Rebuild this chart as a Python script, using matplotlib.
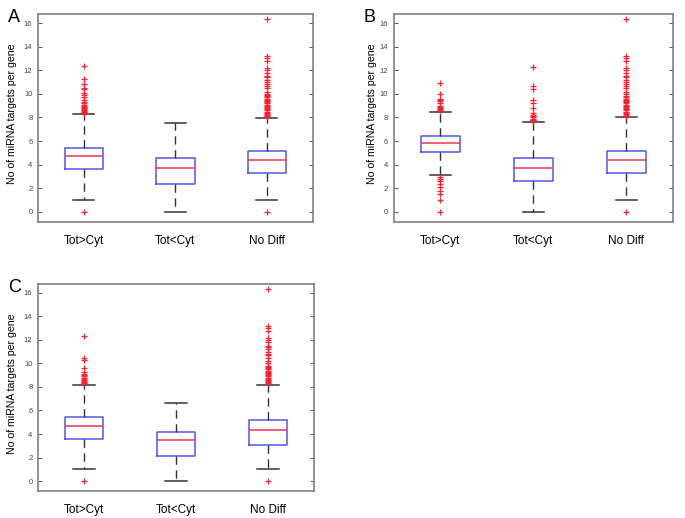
import numpy as np
import matplotlib
matplotlib.use('Agg')
import matplotlib.pyplot as plt

plt.rcParams['font.family'] = ['Liberation Sans', 'DejaVu Sans']

# Categories shared by every panel
categories = ['Tot>Cyt', 'Tot<Cyt', 'No Diff']
panel_labels = ['A', 'B', 'C']
yticks = [0, 2, 4, 6, 8, 10, 12, 14, 16]

# Box statistics per panel: (whislo, q1, med, q3, whishi) for each category
A_stats = [(1.0, 3.6, 4.7, 5.45, 8.3), (0.0, 2.35, 3.7, 4.6, 7.55), (1.0, 3.3, 4.4, 5.2, 7.95)]
B_stats = [(3.15, 5.1, 5.8, 6.45, 8.5), (0.0, 2.6, 3.7, 4.55, 7.6), (1.0, 3.3, 4.4, 5.2, 8.0)]
C_stats = [(1.0, 3.55, 4.7, 5.45, 8.2), (0.0, 2.15, 3.5, 4.2, 6.65), (1.0, 3.1, 4.3, 5.15, 8.2)]

# Outliers per panel and category
A_fliers_totgt = [0.0, 8.35, 8.4, 8.45, 8.5, 8.55, 8.6, 8.7, 8.8, 8.9, 9.0, 9.1, 9.2, 9.35,
                  9.5, 9.7, 9.9, 10.1, 10.45, 10.5, 10.8, 11.25, 12.35]
A_fliers_totlt = []
A_fliers_nodiff = [0.0, 8.05, 8.1, 8.2, 8.3, 8.4, 8.5, 8.6, 8.7, 8.8, 8.9, 9.0, 9.1, 9.2, 9.3,
                   9.4, 9.5, 9.6, 9.7, 9.8, 9.9, 10.0, 10.2, 10.5, 10.7, 10.8, 11.0, 11.2, 11.4,
                   11.5, 11.8, 12.0, 12.2, 12.8, 13.0, 13.2, 16.35]

B_fliers_totgt = [0.0, 1.0, 1.5, 1.8, 2.1, 2.4, 2.6, 2.8, 3.0, 8.6, 8.65, 8.7, 8.8, 8.9, 9.0,
                  9.2, 9.4, 9.5, 9.6, 10.0, 10.9]
B_fliers_totlt = [7.7, 7.75, 7.8, 7.9, 8.0, 8.1, 8.2, 8.4, 8.8, 9.2, 9.5, 10.4, 10.7, 12.3]
B_fliers_nodiff = [0.0, 8.1, 8.2, 8.3, 8.4, 8.5, 8.6, 8.7, 8.8, 8.9, 9.0, 9.1, 9.2, 9.3, 9.4,
                   9.5, 9.6, 9.7, 9.8, 10.0, 10.2, 10.5, 10.7, 10.8, 11.0, 11.2, 11.4, 11.5,
                   11.8, 12.0, 12.2, 12.8, 13.0, 13.2, 16.3]

C_fliers_totgt = [0.0, 8.3, 8.35, 8.4, 8.5, 8.6, 8.7, 8.8, 8.9, 9.0, 9.1, 9.3, 9.6, 10.3, 10.5, 12.3]
C_fliers_totlt = []
C_fliers_nodiff = [0.0, 8.3, 8.4, 8.5, 8.6, 8.7, 8.8, 8.9, 9.0, 9.1, 9.2, 9.3, 9.4, 9.5, 9.6,
                   9.7, 9.8, 10.0, 10.2, 10.5, 10.7, 10.8, 11.0, 11.2, 11.4, 11.5, 11.8, 12.0,
                   12.2, 12.8, 13.0, 13.2, 16.35]

panels = [
    (A_stats, [A_fliers_totgt, A_fliers_totlt, A_fliers_nodiff]),
    (B_stats, [B_fliers_totgt, B_fliers_totlt, B_fliers_nodiff]),
    (C_stats, [C_fliers_totgt, C_fliers_totlt, C_fliers_nodiff]),
]

# axes rectangles in figure fractions, and y-label offsets
rects = [[0.0555, 0.5714, 0.401, 0.4015],
         [0.575, 0.5714, 0.407, 0.4015],
         [0.0555, 0.0521, 0.403, 0.3996]]
label_x = [-0.076, -0.061, -0.076]

box_col = '#5555ee'
fig = plt.figure(figsize=(6.85, 5.18), dpi=100)

for idx, ((stats, fliers), rect) in enumerate(zip(panels, rects)):
    ax = fig.add_axes(rect)
    bxp_stats = []
    for cat, s, fl in zip(categories, stats, fliers):
        bxp_stats.append(dict(label=cat, whislo=s[0], q1=s[1], med=s[2], q3=s[3],
                              whishi=s[4], fliers=fl))
    ax.bxp(bxp_stats, positions=[1, 2, 3], widths=0.42,
           boxprops=dict(color=box_col, linewidth=1.1),
           medianprops=dict(color='#ee3355', linewidth=1.1),
           whiskerprops=dict(color='#333333', linewidth=1.0, linestyle=(0, (6, 4))),
           capprops=dict(color='#333333', linewidth=1.1),
           capwidths=0.23,
           flierprops=dict(marker='+', markeredgecolor='#ff2030', markersize=4.5,
                           markeredgewidth=0.9, linestyle='none'))
    ax.set_xlim(0.5, 3.5)
    ax.set_ylim(-0.85, 16.76)
    ax.set_yticks(yticks)
    ax.set_yticklabels([str(t) for t in yticks], fontsize=5.5, color='#444444')
    ax.tick_params(axis='y', direction='in', left=True, right=True, length=3,
                   width=0.7, color='#555555', pad=4)
    ax.tick_params(axis='x', length=0, labelsize=8.5, pad=9)
    for sp in ax.spines.values():
        sp.set_color('#808080')
        sp.set_linewidth(1.2)
    ax.set_ylabel('No of miRNA targets per gene', fontsize=7.6)
    ax.yaxis.set_label_coords(label_x[idx], 0.52)
    x0 = rect[0] - 0.044
    fig.text(x0, rect[1] + rect[3] - 0.006, panel_labels[idx], fontsize=13,
             ha='left', va='center')

fig.savefig('out.png', dpi=100)
